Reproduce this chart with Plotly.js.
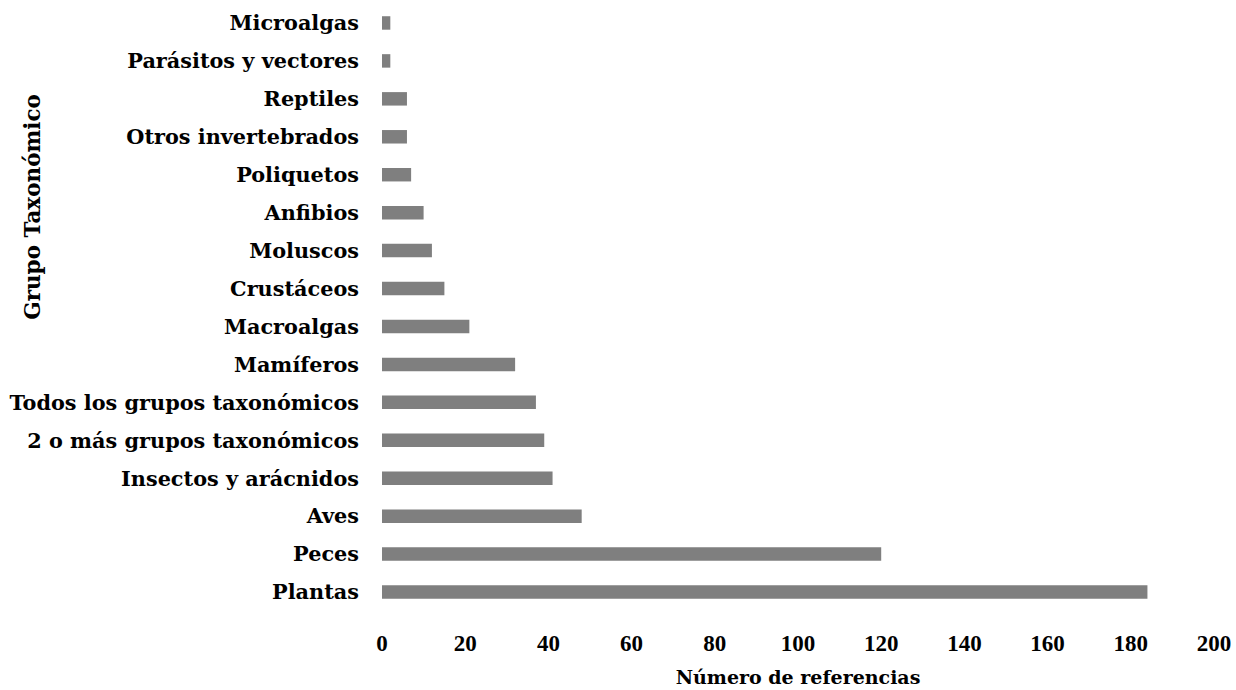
<!DOCTYPE html>
<html>
<head>
<meta charset="utf-8">
<script src="https://cdn.plot.ly/plotly-3.0.1.min.js"></script>
<style>
  html, body { margin: 0; padding: 0; background: #ffffff; }
  #chart { width: 1236px; height: 690px; }
</style>
</head>
<body>
<div id="chart"></div>
<script>
// Taxonomic groups, from bottom to top of the chart
const groups = [
  "Plantas", "Peces", "Aves", "Insectos y arácnidos",
  "2 o más grupos taxonómicos", "Todos los grupos taxonómicos",
  "Mamíferos", "Macroalgas", "Crustáceos", "Moluscos", "Anfibios",
  "Poliquetos", "Otros invertebrados", "Reptiles",
  "Parásitos y vectores", "Microalgas"
];
// Number of references for each group
const references = [184, 120, 48, 41, 39, 37, 32, 21, 15, 12, 10, 7, 6, 6, 2, 2];
const xTicks = [0, 20, 40, 60, 80, 100, 120, 140, 160, 180, 200];

const serif = "'DejaVu Serif', 'Liberation Serif', serif";
const numSerif = "'Liberation Serif', 'DejaVu Serif', serif";

const trace = {
  type: "bar",
  orientation: "h",
  y: groups,
  x: references,
  marker: { color: "#7f7f7f", line: { width: 0 } },
  hoverinfo: "x+y"
};

const layout = {
  width: 1236,
  height: 690,
  margin: { l: 382, r: 22, t: 4, b: 79 },
  paper_bgcolor: "#ffffff",
  plot_bgcolor: "#ffffff",
  bargap: 0.645,
  showlegend: false,
  font: { family: serif, color: "#000000" },
  xaxis: {
    range: [0, 200],
    tickvals: xTicks,
    ticktext: xTicks.map(String),
    showgrid: false,
    zeroline: false,
    showline: false,
    ticks: "",
    ticklabelstandoff: 16,
    tickfont: { family: numSerif, size: 23, color: "#000000", weight: "bold" },
    title: {
      text: "<b>Número de referencias</b>",
      font: { family: serif, size: 19, color: "#000000" },
      standoff: 15
    }
  },
  yaxis: {
    type: "category",
    categoryorder: "array",
    categoryarray: groups,
    range: [-0.5, 15.5],
    showgrid: false,
    zeroline: false,
    showline: false,
    ticks: "",
    ticklabelstandoff: 22,
    tickfont: { family: serif, size: 20.8, color: "#000000", weight: "bold" }
  },
  annotations: [{
    text: "<b>Grupo Taxonómico</b>",
    xref: "paper", yref: "paper",
    x: -0.4195, y: 0.666,
    xanchor: "center", yanchor: "middle",
    textangle: -90,
    showarrow: false,
    font: { family: serif, size: 21.5, color: "#000000" }
  }]
};

Plotly.newPlot("chart", [trace], layout, { displayModeBar: false, staticPlot: true });
</script>
</body>
</html>
